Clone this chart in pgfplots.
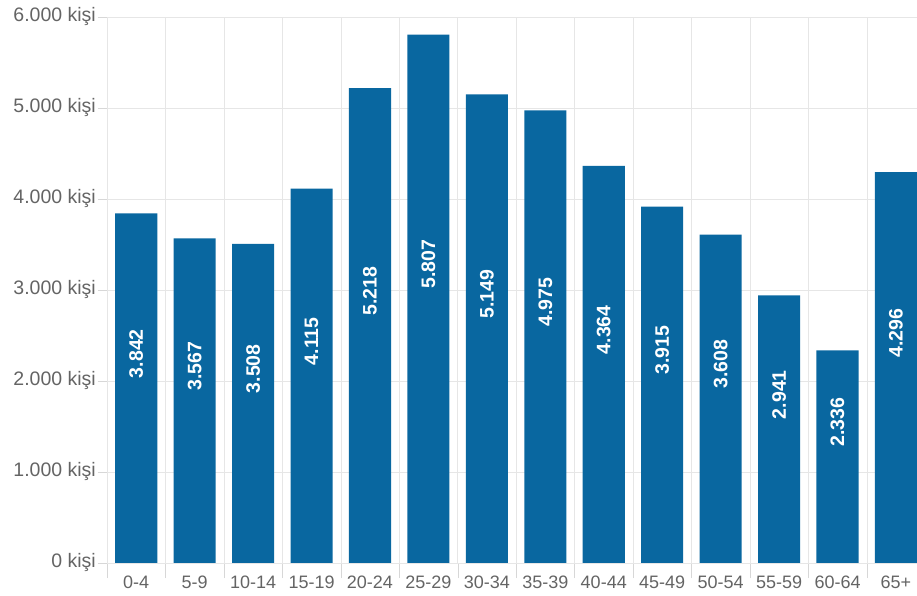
\documentclass[border=0pt]{standalone}
\usepackage{fontspec}
\setmainfont{Liberation Sans}
\usepackage{pgfplots}
\pgfplotsset{compat=1.18}
\usepackage{pgfplotstable}
\definecolor{barblue}{RGB}{9,103,160}
\definecolor{txtgray}{RGB}{100,100,100}
\definecolor{gridgray}{RGB}{230,230,230}
\definecolor{tickgray}{RGB}{215,215,215}

\pgfplotstableread{
x v
0 3842
1 3567
2 3508
3 4115
4 5218
5 5807
6 5149
7 4975
8 4364
9 3915
10 3608
11 2941
12 2336
13 4296
}\agedata

\begin{document}
\begin{tikzpicture}
\begin{axis}[
  scale only axis, width=810pt, height=546pt,
  xmin=-0.5, xmax=13.36, ymin=0, ymax=6000,
  axis line style={draw=none},
  tick pos=left, tick align=outside,
  xtick={0,...,13},
  xticklabels={0-4,5-9,10-14,15-19,20-24,25-29,30-34,35-39,40-44,45-49,50-54,55-59,60-64,65+},
  major x tick style={draw=none},
  minor xtick={-0.5,0.5,...,12.5},
  xminorgrids, minor x grid style={gridgray},
  minor tick length=15pt, major tick length=9pt,
  minor x tick style={tickgray},
  ytick={0,1000,...,6000},
  yticklabels={0 kişi,1.000 kişi,2.000 kişi,3.000 kişi,4.000 kişi,5.000 kişi,6.000 kişi},
  ymajorgrids, major y grid style={gridgray},
  major y tick style={tickgray},
  extra y ticks={0}, extra y tick labels={},
  extra y tick style={grid style={tickgray}, major tick length=0pt},
  xticklabel style={font=\fontsize{18}{21}\selectfont, text=txtgray},
  yticklabel style={font=\fontsize{19.5}{22}\selectfont, text=txtgray, inner sep=2pt},
  clip=false,
]
\addplot[ybar, bar width=0.72, fill=barblue, draw=none] table[x=x, y=v] {\agedata};
\addplot[draw=none, mark=none, point meta=explicit,
  nodes near coords={\pgfmathprintnumber[fixed, 1000 sep={.}, assume math mode=true]{\pgfplotspointmeta}},
  nodes near coords align=center,
  every node near coord/.style={rotate=90, anchor=center, text=white, font=\fontsize{19.5}{22}\selectfont\bfseries}]
  table[x=x, y expr=\thisrow{v}/2+380, meta=v] {\agedata};
\coordinate (O) at (rel axis cs:0,0);
\end{axis}
\pgfresetboundingbox
\path ([shift={(-107pt,-33pt)}]O) rectangle ++(917pt,596pt);
\end{tikzpicture}
\end{document}
